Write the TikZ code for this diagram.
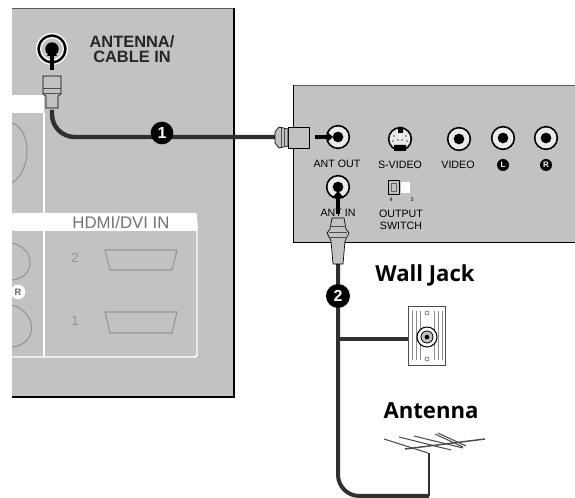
\documentclass[tikz,border=0pt]{standalone}
\usepackage{fontspec}
\setmainfont{Liberation Sans}
\newfontfamily\titlefont{Open Sans}
\usetikzlibrary{arrows.meta}
\definecolor{panelgray}{HTML}{C2C2C2}
\definecolor{cablegray}{HTML}{303030}
\definecolor{faint}{HTML}{949494}
\tikzset{
  panel/.style={fill=panelgray,draw=none},
  jackshape/.style={circle,draw=black,line width=1.2pt,fill=panelgray!35,inner sep=0pt,minimum size=#1},
  jackcore/.style={circle,fill=black,inner sep=0pt,minimum size=#1},
  lbl/.style={font=\fontsize{8}{9}\selectfont,text=black,inner sep=0pt,align=center},
  biglbl/.style={font=\fontsize{12.3}{11}\selectfont\bfseries,text=black!85,inner sep=0pt,align=center},
  title/.style={font=\titlefont\fontsize{16.6}{18}\selectfont\bfseries,inner sep=0pt},
  badge/.style={circle,fill=black,text=white,inner sep=0pt,minimum size=#1,font=\fontsize{12}{12}\selectfont\bfseries},
  smallbadge/.style={circle,fill=black,text=white,inner sep=0pt,minimum size=9pt,font=\fontsize{6}{6}\selectfont\bfseries},
  cable/.style={draw=cablegray,line width=3.3pt},
  thincable/.style={draw=cablegray,line width=1.3pt},
  plug/.style={draw=black,line width=.5pt,fill=panelgray},
  tip/.style={-{Triangle[length=4.5pt,width=7.5pt]},line width=2.6pt,black},
  antrod/.style={draw=black!70,line width=.8pt},
  whiteline/.style={draw=white,line width=1.1pt},
  faintline/.style={draw=faint,line width=.8pt}
}
\begin{document}
\begin{tikzpicture}[x=0.75pt,y=-0.75pt]
\useasboundingbox (0,0) rectangle (575,498);
% left panel
\fill[panel] (12,8) rectangle (234,397);
\draw[black!65,line width=.9pt] (12,8.5) -- (234,8.5);
\draw[black,line width=1.1pt] (234,8) -- (234,397) -- (12,397);
\fill[white] (12,95) rectangle (44,113);
\fill[white,rounded corners=1pt] (12,213) rectangle (197,231);
\draw[whiteline] (44,113) -- (44,357);
\draw[whiteline,rounded corners=2pt] (12,357) -- (197,357) -- (197,222);
\node[font=\fontsize{12.6}{12.6}\selectfont,text=black!55,fill=white,inner sep=1pt] (hdmi) at (121,222) {HDMI/DVI IN};
\node[font=\fontsize{10}{10}\selectfont,text=faint,inner sep=0pt] (two) at (75,258) {2};
\node[font=\fontsize{10}{10}\selectfont,text=faint,inner sep=0pt] (one) at (75,321) {1};
\draw[faintline] (105,250) -- (177,250) -- (172,270) -- (110,270) -- cycle;
\draw[faintline] (105,312) -- (177,312) -- (172,333) -- (110,333) -- cycle;
\draw[faintline] (12,243) .. controls (36,248) and (36,278) .. (12,280);
\draw[faintline] (12,305) .. controls (38,312) and (38,345) .. (12,347);
\draw[faintline] (12,123) .. controls (32,130) and (32,170) .. (12,183);
\node[circle,fill=white,text=black!60,inner sep=0pt,minimum size=11pt,font=\fontsize{7}{7}\selectfont\bfseries] (rbadge) at (18,292) {R};
% left jack
\node[circle,draw=white,line width=1pt,fill=black,inner sep=0pt,minimum size=23pt] (jackA) at (52,49) {};
\node[circle,draw=white,line width=1pt,fill=panelgray,inner sep=0pt,minimum size=17pt] (jackB) at (52,49) {};
\node[jackcore=10pt] (jackC) at (52,49) {};
\node[biglbl] (anttext) at (132,49) {ANTENNA/\\CABLE IN};
% cable 1
\coordinate (c1s) at (52,110);
\coordinate (c1e) at (276,137);
\draw[cable,rounded corners=17pt] (c1s) -- (52,137) -- (c1e);
\draw[plug] (46,108) -- (46,96) -- (43,94) -- (43,76) -- (61,76) -- (61,94) -- (58,96) -- (58,108) -- cycle;
\draw[black!70,line width=.5pt] (43,88) -- (61,88) (43,93) -- (61,93);
\draw[tip] (52,70) -- (52,50);
\node[badge=17pt] (b1) at (162,133) {1};
% right panel
\fill[panel] (293,85) rectangle (575,243);
\draw[black!65,line width=.9pt] (293,85.5) -- (575,85.5);
\draw[black,line width=1.1pt] (575,242.5) -- (293.5,242.5) -- (293.5,85);
% right plug
\draw[plug] (309,127) rectangle (288,148);
\draw[plug] (288,129) -- (279,127) -- (275,132) -- (275,143) -- (279,148) -- (288,146) -- cycle;
\draw[black!70,line width=.5pt] (281,128) -- (281,147) (284,128) -- (284,147);
% jacks
\node[jackshape=17pt] (antout) at (338,137) {};
\node[jackcore=8pt] (antoutc) at (338,137) {};
\draw[tip] (315,137) -- (333,137);
\node[jackshape=17pt] (svid) at (400,139) {};
\fill[black] (398,127) rectangle (403,133) (394,145) rectangle (406,151);
\foreach \dx/\dy in {-6/-3,6/-3,-7/2,7/2,-2/1,2/1}
  \fill[black!70] (400+\dx,139+\dy) circle[radius=.9];
\node[jackshape=17pt] (vid) at (459,139) {};
\node[jackcore=8pt] (vidc) at (459,139) {};
\node[jackshape=17pt] (lj) at (503,138) {};
\node[jackcore=8pt] (ljc) at (503,138) {};
\node[jackshape=17pt] (rj) at (546,138) {};
\node[jackcore=8pt] (rjc) at (546,138) {};
\node[lbl] (lout) at (337,164) {ANT OUT};
\node[lbl] (lsv) at (400,165) {S-VIDEO};
\node[lbl] (lv) at (458,165) {VIDEO};
\node[smallbadge] (bl) at (503,165) {L};
\node[smallbadge] (br) at (546,165) {R};
\node[jackshape=17pt] (antin) at (338,187) {};
\node[jackcore=8pt] (antinc) at (338,187) {};
\node[lbl] (lin) at (338,213) {ANT IN};
\draw[fill=panelgray,draw=black,line width=.6pt] (388,180) rectangle (399,194);
\draw[black!60,line width=.4pt] (391,183) rectangle (396,191);
\fill[white] (401,182) rectangle (410,193);
\node[font=\fontsize{4}{4}\selectfont,inner sep=0pt] (n4) at (391,200) {4};
\node[font=\fontsize{4}{4}\selectfont,inner sep=0pt] (n3) at (412,200) {3};
\node[lbl] (lsw) at (401,219.5) {OUTPUT\\SWITCH};
% cable 2 and plug
\coordinate (c2s) at (338,262);
\coordinate (c2c) at (429,496);
\coordinate (c2a) at (429,453);
\draw[cable,rounded corners=16pt,line width=3pt] (c2s) -- (338,496) -- (c2c);
\draw[thincable] (c2c) -- (c2a);
\draw[tip] (338,214) -- (338,191);
\draw[plug] (332,218) -- (344,218) -- (346,229) -- (349,233) -- (345,241) -- (343,264) -- (333,264) -- (331,241) -- (327,233) -- (330,229) -- cycle;
\draw[black!70,line width=.5pt] (330,226) -- (346,226) (329,232) -- (347,232) (330,237) -- (346,237);
\node[badge=18pt] (b2) at (338,296) {2};
% wall plate
\node[draw=black!70,line width=.8pt,fill=white,minimum width=28pt,minimum height=44pt,inner sep=0pt] (plate) at (427,336) {};
\foreach \xx in {412,416,420,434,438,442}
  \draw[black!45,line width=.7pt] (\xx,311) -- (\xx,360);
\node[circle,draw=black!70,line width=.4pt,inner sep=0pt,minimum size=3pt] (s1) at (427,313) {};
\node[circle,draw=black!70,line width=.4pt,inner sep=0pt,minimum size=3pt] (s2) at (427,359) {};
\node[circle,draw=black,line width=.8pt,fill=white,inner sep=0pt,minimum size=15pt] (wj) at (427,337) {};
\node[circle,draw=black,line width=.6pt,fill=panelgray,inner sep=0pt,minimum size=9pt] (wjb) at (427,337) {};
\node[jackcore=3.5pt] (wjc) at (427,337) {};
\draw[cable,line width=3.6pt] (338,339) -- (plate.west |- 0,339);
\node[title] (wall) at (425,275) {Wall Jack};
\node[title] (ant) at (431,411) {Antenna};
% antenna
\draw[antrod,line width=1.1pt] (405,449) -- (485,439);
\draw[antrod] (384,439) -- (428,453);
\draw[antrod] (399,437) -- (451,450);
\draw[antrod] (414,436) -- (463,448);
\draw[antrod] (435,434) -- (463,447);
\draw[antrod] (438,433) -- (466,446);
\end{tikzpicture}
\end{document}
